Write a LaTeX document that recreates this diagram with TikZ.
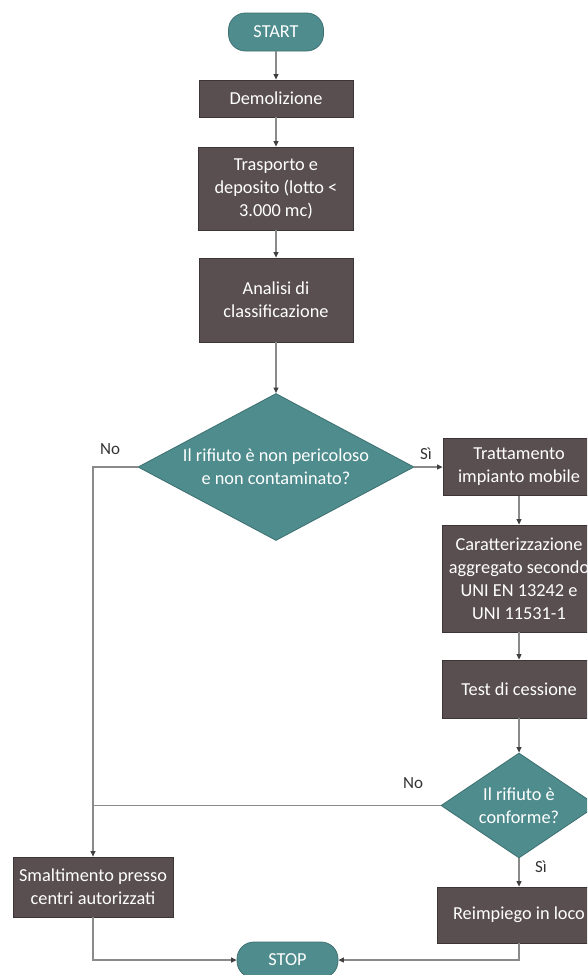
\documentclass[tikz,border=0pt]{standalone}
\usepackage{fontspec}
\setmainfont{Carlito}
\usetikzlibrary{shapes.geometric,arrows.meta}
\definecolor{boxfill}{HTML}{594F51}
\definecolor{boxline}{HTML}{3B3536}
\definecolor{tealfill}{HTML}{4F8C8D}
\definecolor{tealline}{HTML}{3D7071}
\definecolor{connc}{HTML}{8A8A8A}
\definecolor{tipc}{HTML}{404040}
\definecolor{labc}{HTML}{333333}
\begin{document}
\begin{tikzpicture}[x=1pt,y=-1pt,
  every node/.style={font=\fontsize{18.3}{23}\selectfont},
  proc/.style={draw=boxline, line width=0.8pt, fill=boxfill, text=white, align=center, inner sep=0pt},
  term/.style={draw=tealline, line width=0.8pt, fill=tealfill, text=white, rounded corners=17pt, inner sep=0pt},
  dia/.style={diamond, draw=tealline, line width=0.8pt, fill=tealfill, inner sep=0pt},
  dtext/.style={text=white, align=center, inner sep=0pt},
  conn/.style={draw=connc, line width=1.2pt},
  arr/.style={conn, -{Triangle[length=5.5pt,width=5pt,color=tipc]}},
  lab/.style={text=labc, font=\fontsize{17}{20}\selectfont}
]
\useasboundingbox (0,0) rectangle (587,975);
\clip (0,0) rectangle (587,975);

% left column
\node[term, minimum width=95, minimum height=38] (start) at (276,32) {START};
\node[proc, minimum width=154, minimum height=37] (demol) at (276,98.5) {Demolizione};
\node[proc, minimum width=155, minimum height=83] (trasp) at (276,188.5) {Trasporto e\\deposito (lotto <\\3.000 mc)};
\node[proc, minimum width=154, minimum height=84] (anal) at (276,300) {Analisi di\\classificazione};
\node[dia, minimum width=276, minimum height=147] (d1) at (276,467) {};
\node[dtext] (d1t) at (d1.center) {Il rifiuto è non pericoloso\\e non contaminato?};
\node[proc, minimum width=160, minimum height=60] (smalt) at (93,887) {Smaltimento presso\\centri autorizzati};
\node[term, minimum width=101, minimum height=36] (stop) at (287.5,960) {STOP};

% right column
\node[proc, minimum width=152, minimum height=57] (tratt) at (519,467) {Trattamento\\impianto mobile};
\node[proc, minimum width=154, minimum height=107] (carat) at (519,578.5) {Caratterizzazione\\aggregato secondo\\UNI EN 13242 e\\UNI 11531-1};
\node[proc, minimum width=154, minimum height=58] (test) at (519,689) {Test di cessione};
\node[dia, minimum width=156, minimum height=105] (d2) at (519,805.5) {};
\node[dtext] (d2t) at (d2.center) {Il rifiuto è\\conforme?};
\node[proc, minimum width=164, minimum height=56] (reimp) at (519,915) {Reimpiego in loco};

% connectors
\draw[arr] (start) -- (demol);
\draw[arr] (demol) -- (trasp);
\draw[arr] (trasp) -- (anal);
\draw[arr] (anal) -- (d1);
\draw[arr] (d1.east) -- (tratt.west);
\draw[arr] (d1.west) -| (smalt.north);
\draw[arr] (tratt) -- (carat);
\draw[arr] (carat) -- (test);
\draw[arr] (test) -- (d2);
\draw[arr] (d2) -- (reimp);
\draw[conn] (d2.west) -- (d2.west -| smalt.north);
\draw[arr] (smalt.south) |- (stop.west);
\draw[arr] (reimp.south) |- (stop.east);

% labels
\node[lab] (lno1) at (110,449) {No};
\node[lab] (lsi1) at (426,454) {Sì};
\node[lab] (lno2) at (413,783) {No};
\node[lab] (lsi2) at (541,867) {Sì};
\end{tikzpicture}
\end{document}
